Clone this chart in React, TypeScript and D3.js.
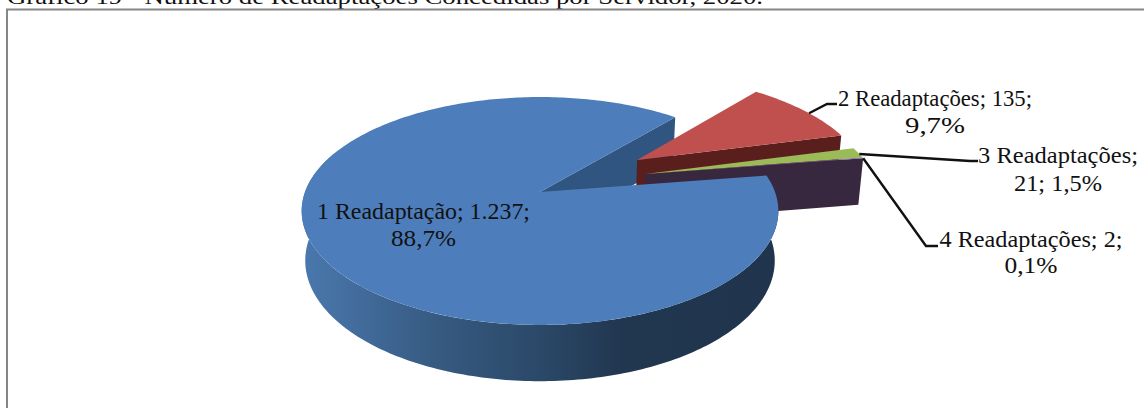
import React from "react";
import * as d3 from "d3";

const categories = ["1 Readaptação", "2 Readaptações", "3 Readaptações", "4 Readaptações"];
const values = [1237, 135, 21, 2];
const valueLabels = ["1.237", "135", "21", "2"];
const percentLabels = ["88,7%", "9,7%", "1,5%", "0,1%"];
const explosion = [0, 0.53, 0.49, 0.49];
const explosionBearingDeg = [0, 55, 70, 70];
const topColors = ["#4d7ebb", "#c0504d", "#9bbb59", "#7a5f9a"];
const wallColors = ["#2f5580", "#5a1f1c", "#4f6a28", "#38283f"];
const titleText = "Gráfico 19 - Número de Readaptações Concedidas por Servidor, 2020.";

const W = 1144, H = 408;
const CX = 540, CY = 192, RX = 235, RY = 110.8, K = 0.1667, DEPTH = 48.5, SHRINK = 0.985;
const START = 81.2;
const rad = Math.PI / 180;
const pie = d3.pie<number>().sort(null).startAngle(START * rad).endAngle((START + 360) * rad);
const arcs = pie(values);

function project(u: number, v: number, z = 0): [number, number] {
  const f = 1 / (1 - K * v);
  const s = 1 - (1 - SHRINK) * z;
  return [CX + RX * u * f * s, CY + RY * v * f * s + DEPTH * z * f];
}
function pt(i: number, angle: number, r: number, z = 0) {
  const b = explosionBearingDeg[i] * rad;
  const ou = explosion[i] * Math.sin(b), ov = -explosion[i] * Math.cos(b);
  return project(ou + r * Math.sin(angle), ov - r * Math.cos(angle), z);
}
const line = d3.line();
function samples(a0: number, a1: number, stepDeg = 1) {
  const n = Math.max(2, Math.ceil(Math.abs(a1 - a0) / (stepDeg * rad)));
  return d3.range(n + 1).map((k) => a0 + ((a1 - a0) * k) / n);
}
function topFace(i: number) {
  const a = arcs[i];
  const pts = [pt(i, 0, 0), ...samples(a.startAngle, a.endAngle).map((t) => pt(i, t, 1))];
  return line(pts) + "Z";
}
function wall(i: number, angle: number) {
  return line([pt(i, 0, 0), pt(i, angle, 1), pt(i, angle, 1, 1), pt(i, 0, 0, 1)]) + "Z";
}
function blueSide() {
  const ts = samples(START * rad, 292 * rad);
  const top = ts.map((t) => pt(0, t, 1));
  const bot = ts.map((t) => pt(0, t, 1, 1)).reverse();
  return line([...top, ...bot]) + "Z";
}

const sideStops = [
  [0, "#4a79ae"], [0.1, "#436e9f"], [0.3, "#36597f"], [0.5, "#2b4969"],
  [0.68, "#21364f"], [1, "#20344d"],
] as const;

const fontFamily = "'Liberation Serif', 'Times New Roman', serif";

type Lab = { x: number; y: number[]; lines: string[]; len: number[] };
const labels: Lab[] = [
  { x: 423.5, y: [219, 246], lines: [`${categories[0]}; ${valueLabels[0]};`, percentLabels[0]], len: [213, 65] },
  { x: 935, y: [106, 133], lines: [`${categories[1]}; ${valueLabels[1]};`, percentLabels[1]], len: [194, 60] },
  { x: 1058, y: [163, 191], lines: [`${categories[2]};`, `${valueLabels[2]}; ${percentLabels[2]}`], len: [160, 88] },
  { x: 1031, y: [247, 273], lines: [`${categories[3]}; ${valueLabels[3]};`, percentLabels[3]], len: [183, 53] },
];

export default function App() {
  const leaders: [number, number][][] = [
    [pt(1, (arcs[1].startAngle + arcs[1].endAngle) / 2 + 2 * rad, 1), [827, 104], [837, 104]],
    [pt(2, arcs[2].endAngle - 2 * rad, 1), [970, 161], [978, 161]],
    [pt(3, arcs[3].endAngle, 1), [926, 246], [938, 246]],
  ];
  return (
    <svg
      width={W}
      height={H}
      viewBox={`0 0 ${W} ${H}`}
      style={{ position: "fixed", left: 0, top: 0, display: "block", background: "#fff" }}
    >
      <defs>
        <linearGradient id="side" gradientUnits="userSpaceOnUse" x1={300} x2={776} y1={0} y2={0}>
          {sideStops.map(([o, c]) => (
            <stop key={o} offset={o} stopColor={c} />
          ))}
        </linearGradient>
      </defs>
      <text x={7} y={4} fontFamily={fontFamily} fontSize={21} textLength={756} lengthAdjust="spacingAndGlyphs" fill="#111">
        {titleText}
      </text>
      <rect x={7} y={9.5} width={1200} height={420} fill="none" stroke="#868686" strokeWidth={2} />

      <path d={wall(0, arcs[0].endAngle)} fill={wallColors[0]} />
      <path d={wall(1, arcs[1].endAngle)} fill={wallColors[1]} />
      <path d={topFace(1)} fill={topColors[1]} />
      <path d={wall(3, arcs[3].endAngle)} fill={wallColors[3]} />
      <path d={topFace(2)} fill={topColors[2]} />
      <path d={topFace(3)} fill={topColors[3]} />
      <path d={blueSide()} fill="url(#side)" />
      <path d={topFace(0)} fill={topColors[0]} />

      {leaders.map((p, i) => (
        <path key={i} d={line(p)!} fill="none" stroke="#111" strokeWidth={2.4} />
      ))}
      {labels.map((l, i) => (
        <g key={i} fontFamily={fontFamily} fontSize={23} fill="#111" textAnchor="middle">
          {l.lines.map((s, j) => (
            <text key={j} x={l.x} y={l.y[j]} textLength={l.len[j]} lengthAdjust="spacingAndGlyphs">
              {s}
            </text>
          ))}
        </g>
      ))}
    </svg>
  );
}
